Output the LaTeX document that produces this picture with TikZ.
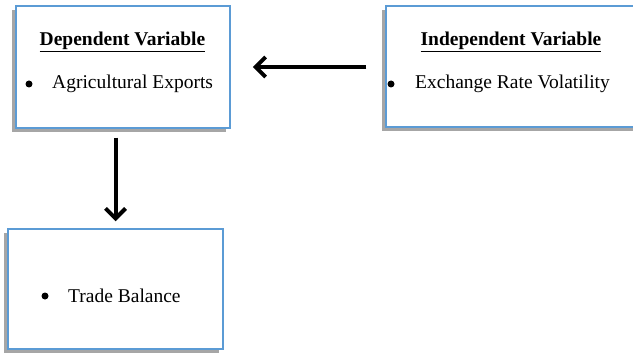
\documentclass[tikz,border=0pt]{standalone}
\usepackage{fontspec}
\setmainfont{Liberation Serif}
\usetikzlibrary{arrows.meta,shadows}
\definecolor{boxblue}{HTML}{5B9BD5}
\definecolor{shadowgray}{HTML}{A6A6A6}
\begin{document}
\begin{tikzpicture}[x=1pt,y=-1pt,
  varbox/.style={draw=boxblue, line width=1.5pt, fill=white, inner sep=0pt,
    drop shadow={shadow xshift=-4pt, shadow yshift=-4pt, fill=shadowgray, opacity=1}},
  txt/.style={font=\fontsize{19.5}{22}\selectfont, inner sep=0pt},
  bul/.style={circle, fill=black, inner sep=0pt, minimum size=7pt},
  flow/.style={line width=4pt, -{Straight Barb[length=10pt,width=20pt,line width=4pt]}}]
\useasboundingbox (0,0) rectangle (633,353);
\clip (0,0) rectangle (633,353);
\node[varbox, minimum width=214pt, minimum height=122pt] (b1) at (123,67) {};
\node[varbox, minimum width=254pt, minimum height=121pt] (b2) at (513,66.5) {};
\node[varbox, minimum width=215pt, minimum height=120pt] (b3) at (115.5,289) {};
\node[txt, font=\fontsize{19.5}{22}\selectfont\bfseries] (t1) at (122.5,42) {\underline{Dependent Variable}};
\node[bul] (u1) at (29,84) {};
\node[txt, anchor=west] (l1) at (52,84) {Agricultural Exports};
\node[txt, font=\fontsize{19.5}{22}\selectfont\bfseries] (t2) at (511,42) {\underline{Independent Variable}};
\node[bul] (u2) at (391,84) {};
\node[txt, anchor=west] (l2) at (415,84) {Exchange Rate Volatility};
\node[bul] (u3) at (45,296) {};
\node[txt, anchor=west] (l3) at (68,296) {Trade Balance};
\draw[flow, shorten <=19pt, shorten >=22pt] (b2.west |- b1.east) -- (b1.east);
\draw[flow, shorten <=9pt, shorten >=7pt] (b1.south -| b3.north) -- (b3.north);
\end{tikzpicture}
\end{document}
